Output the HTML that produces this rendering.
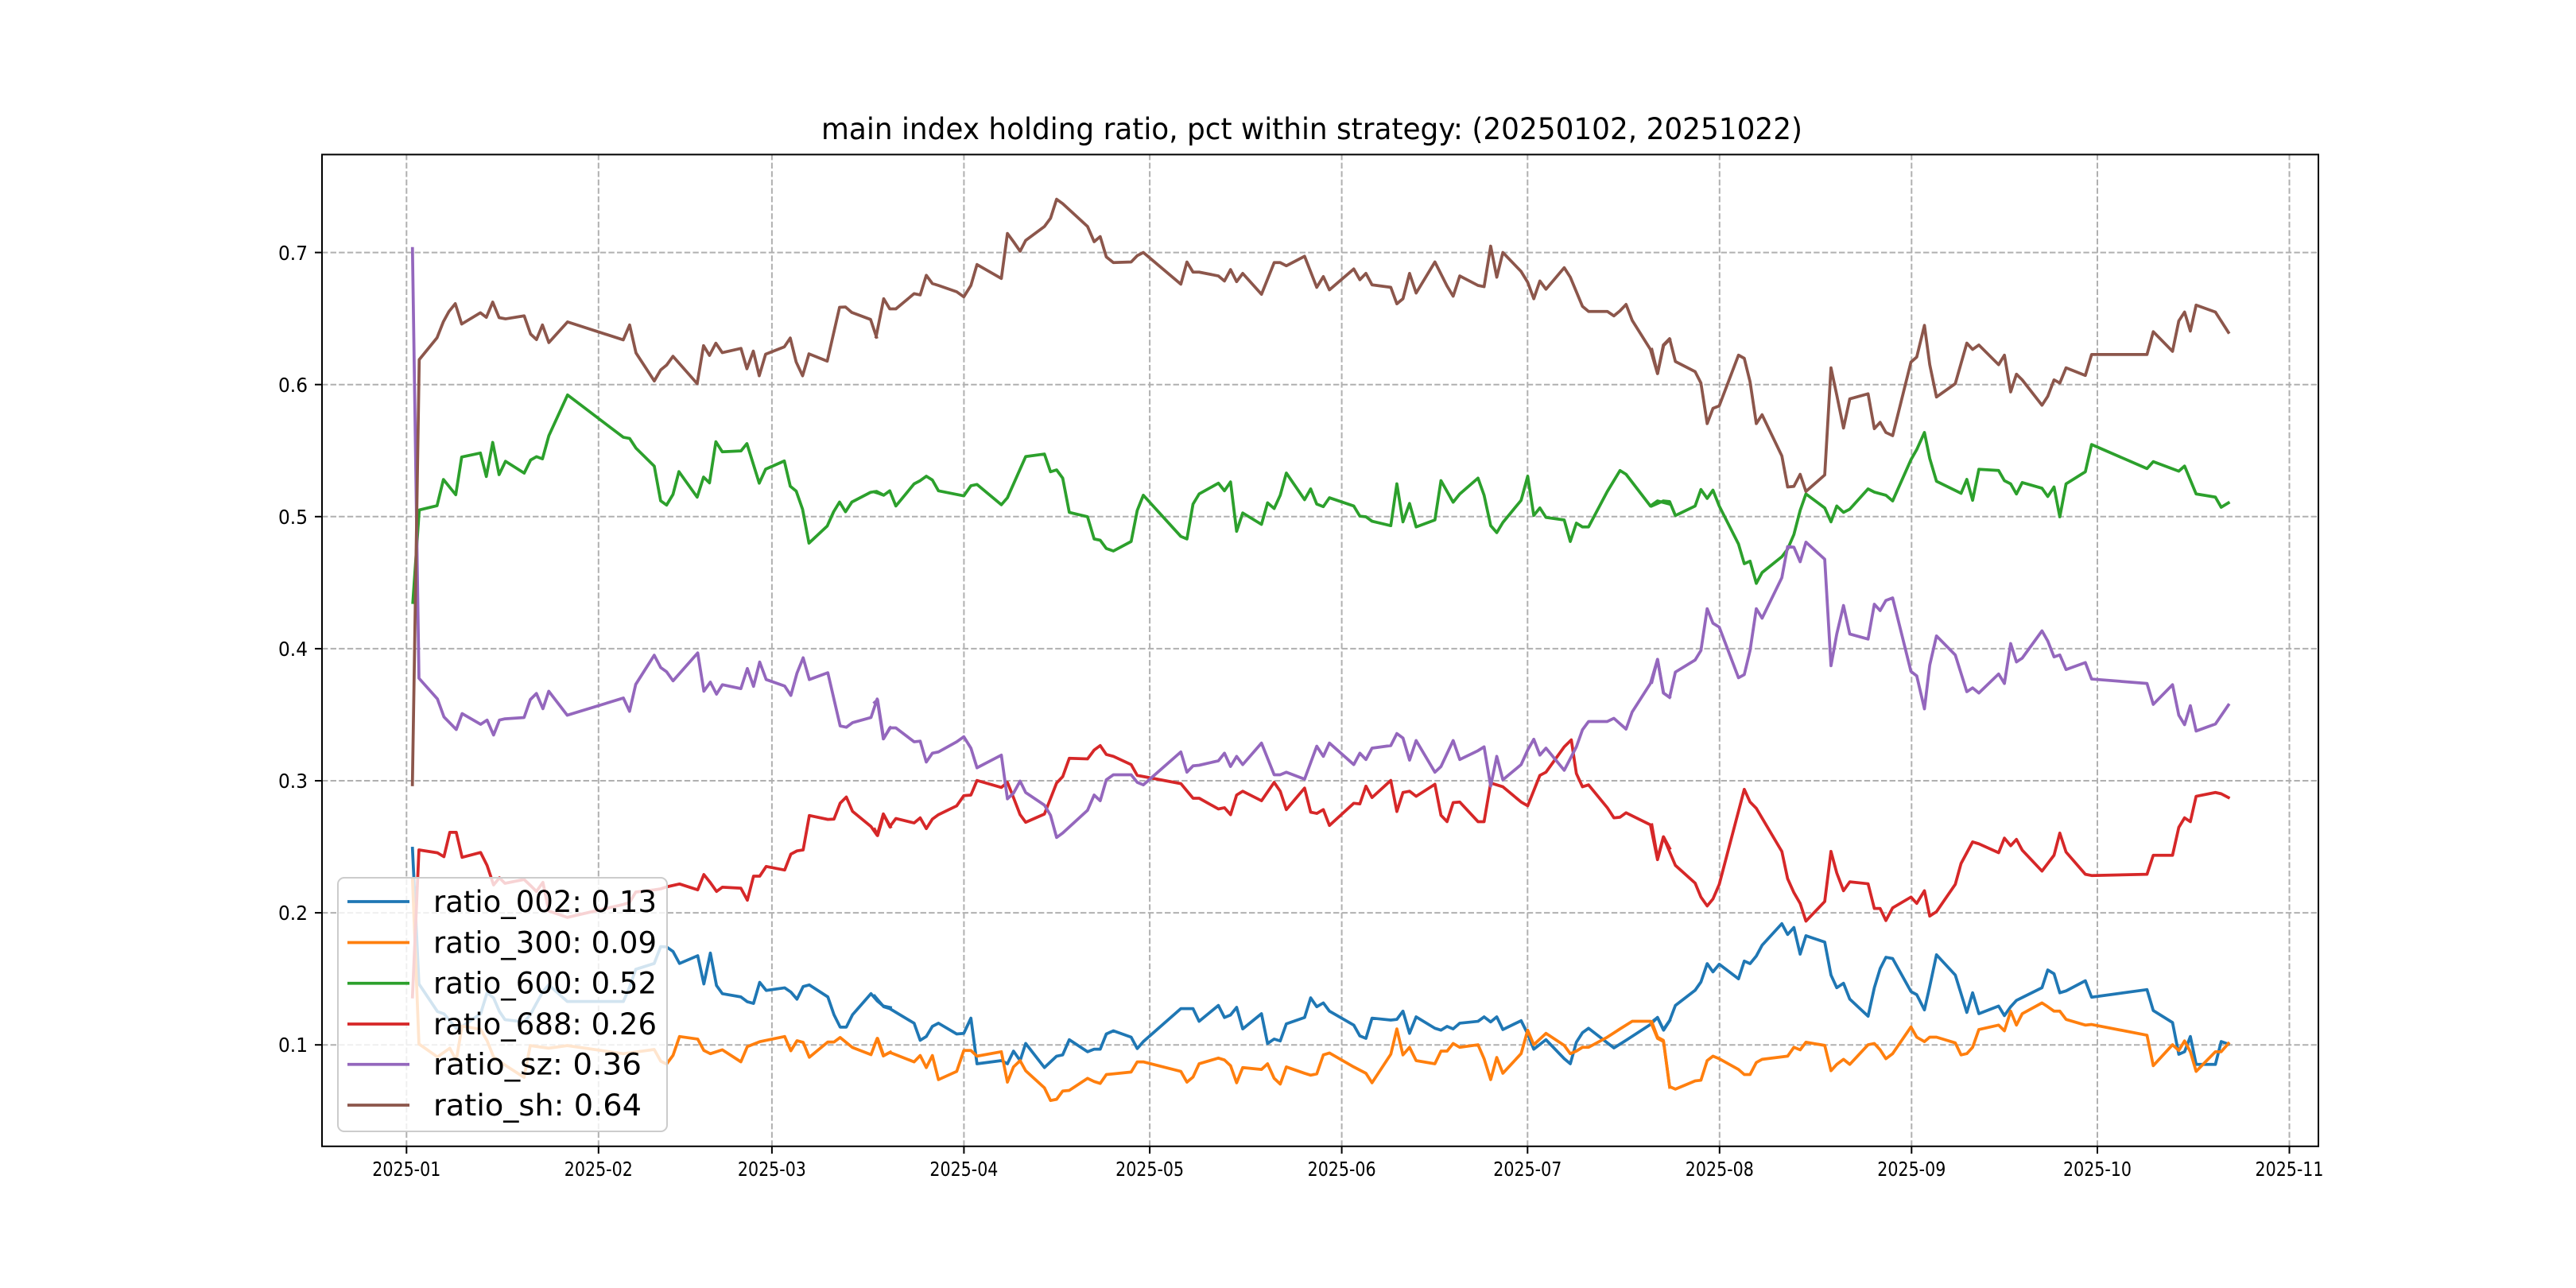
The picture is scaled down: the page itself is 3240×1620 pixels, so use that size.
<!DOCTYPE html>
<html><head><meta charset="utf-8"><style>html,body{margin:0;padding:0;background:#fff}svg{display:block}</style></head>
<body>
<svg xmlns="http://www.w3.org/2000/svg" width="3240" height="1620" viewBox="0 0 3240 1620" font-family="'DejaVu Sans','Liberation Sans',sans-serif">
<rect width="3240" height="1620" fill="#fff"/>
<g stroke="#b0b0b0" stroke-width="2" stroke-dasharray="7.4,3.2" fill="none">
<line x1="511.3" y1="194" x2="511.3" y2="1442"/><line x1="752.8" y1="194" x2="752.8" y2="1442"/><line x1="970.9" y1="194" x2="970.9" y2="1442"/><line x1="1212.4" y1="194" x2="1212.4" y2="1442"/><line x1="1446.1" y1="194" x2="1446.1" y2="1442"/><line x1="1687.6" y1="194" x2="1687.6" y2="1442"/><line x1="1921.3" y1="194" x2="1921.3" y2="1442"/><line x1="2162.8" y1="194" x2="2162.8" y2="1442"/><line x1="2404.3" y1="194" x2="2404.3" y2="1442"/><line x1="2638" y1="194" x2="2638" y2="1442"/><line x1="2879.5" y1="194" x2="2879.5" y2="1442"/>
<line x1="405" y1="1314.2" x2="2916" y2="1314.2"/><line x1="405" y1="1148.1" x2="2916" y2="1148.1"/><line x1="405" y1="982" x2="2916" y2="982"/><line x1="405" y1="815.9" x2="2916" y2="815.9"/><line x1="405" y1="649.8" x2="2916" y2="649.8"/><line x1="405" y1="483.7" x2="2916" y2="483.7"/><line x1="405" y1="317.6" x2="2916" y2="317.6"/>
</g>
<g fill="none" stroke-width="3.75" stroke-linejoin="round" stroke-linecap="square">
<g stroke="#1f77b4">
<polyline vector-effect="non-scaling-stroke" transform="translate(480,760) scale(0.40816)" points="95,752 115,1170 172,1255 192,1262 230,1307 248,1301 305,1262 325,1197 345,1213 363,1255 380,1280 439,1287 458,1265 477,1230 497,1194 515,1173 572,1224 745,1224 764,1180 783,1125 840,1107 860,1055 878,1056 898,1070 918,1107 974,1083 993,1170 1013,1075 1032,1175 1050,1200 1107,1210 1127,1225 1146,1230 1165,1165 1185,1190 1242,1182 1261,1195 1280,1217 1299,1178 1318,1173 1375,1210 1394,1265 1413,1303 1432,1303 1451,1265 1508,1200 1527,1222 1546,1238 1568,1243"/>
<polyline vector-effect="non-scaling-stroke" transform="translate(1100,190) scale(0.6378,0.7972)" points="0,1333 18,1350 30,1353 78,1376 90,1403 102,1397 114,1381 126,1376 162,1393 176,1392 190,1368 202,1440 250,1435 262,1440 274,1420 287,1435 298,1408 335,1446 359,1428 371,1426 384,1402 420,1421 433,1417 445,1417 457,1393 471,1388 506,1398 518,1416 530,1405 604,1353 628,1353 640,1373 678,1348 690,1367 702,1363 714,1351 726,1385 763,1361 775,1408 788,1401 800,1404 812,1377 848,1367 860,1336 872,1350 885,1344 897,1357 945,1379 957,1396 969,1400 981,1368 1018,1371 1030,1370 1042,1357 1055,1392 1068,1366 1105,1384 1117,1387 1129,1381 1141,1385 1154,1376 1190,1373 1202,1366 1215,1374 1227,1366 1239,1386 1275,1372 1288,1393 1300,1417 1324,1402 1360,1432 1372,1440 1384,1406 1396,1391 1408,1384 1445,1407 1458,1415 1482,1403 1530,1378 1544,1367 1556,1387 1568,1372"/>
<polyline vector-effect="non-scaling-stroke" transform="translate(2000,190) scale(0.6059,0.7972)" points="128,1374 140,1367 152,1386 165,1372 177,1348 218,1324 230,1311 243,1282 255,1295 268,1283 308,1306 320,1278 332,1282 345,1270 357,1253 398,1219 410,1236 423,1225 436,1267 448,1238 487,1248 500,1300 512,1320 526,1313 539,1338 577,1365 590,1320 602,1290 614,1272 628,1274 666,1326 678,1331 694,1355 705,1318 719,1268 758,1300 782,1359 794,1328 807,1361 848,1349 860,1364 873,1350 885,1340 938,1320 950,1292 963,1298 975,1328 988,1325 1028,1309 1041,1335 1156,1323 1169,1356 1209,1375 1222,1425 1234,1421 1246,1397 1258,1441 1298,1441 1310,1405 1325,1409"/>
</g>
<g stroke="#ff7f0e">
<polyline vector-effect="non-scaling-stroke" transform="translate(480,760) scale(0.40816)" points="95,845 115,1355 172,1395 210,1368 230,1405 248,1300 305,1310 325,1345 345,1395 380,1420 439,1458 458,1360 515,1368 572,1360 745,1385 840,1372 860,1408 878,1417 898,1390 918,1332 974,1340 993,1375 1013,1385 1050,1373 1107,1410 1127,1363 1165,1348 1242,1332 1261,1376 1280,1345 1299,1350 1318,1396 1375,1349 1394,1349 1413,1335 1451,1366 1508,1388 1527,1338 1546,1392 1568,1380"/>
<polyline vector-effect="non-scaling-stroke" transform="translate(1100,190) scale(0.6378,0.7972)" points="0,1410 6,1400 18,1427 30,1422 78,1437 90,1427 102,1446 114,1427 126,1465 162,1452 176,1419 190,1419 202,1428 250,1421 262,1469 274,1445 287,1435 298,1451 335,1478 347,1498 359,1496 371,1483 384,1482 420,1463 433,1468 445,1471 457,1457 506,1453 518,1437 530,1437 604,1452 616,1469 628,1461 640,1440 678,1431 690,1434 702,1443 714,1470 726,1446 763,1449 775,1440 788,1463 800,1472 812,1445 848,1455 860,1458 872,1456 885,1426 897,1423 945,1445 969,1455 981,1470 1018,1425 1030,1385 1042,1426 1055,1414 1068,1435 1105,1440 1117,1420 1129,1420 1141,1408 1154,1414 1190,1410 1202,1432 1215,1465 1227,1430 1239,1455 1275,1424 1288,1387 1300,1410 1324,1392 1360,1411 1372,1424 1384,1420 1396,1414 1408,1414 1445,1398 1470,1385 1494,1373 1530,1373 1544,1400 1556,1405 1568,1477"/>
<polyline vector-effect="non-scaling-stroke" transform="translate(2000,190) scale(0.6059,0.7972)" points="128,1374 140,1398 152,1403 165,1476 177,1480 218,1467 230,1466 243,1435 255,1428 268,1432 308,1449 320,1457 332,1457 345,1438 357,1433 410,1428 423,1414 436,1418 448,1406 487,1411 500,1451 512,1441 526,1433 539,1441 577,1410 590,1408 602,1418 614,1432 628,1424 666,1382 678,1398 694,1405 705,1398 719,1398 758,1407 770,1426 782,1424 794,1414 807,1386 848,1379 860,1388 873,1357 885,1379 897,1361 938,1344 950,1350 963,1357 975,1357 988,1370 1028,1379 1041,1378 1156,1395 1169,1443 1209,1410 1222,1419 1234,1404 1246,1421 1258,1452 1298,1421 1310,1421 1325,1408"/>
</g>
<g stroke="#2ca02c">
<polyline vector-effect="non-scaling-stroke" transform="translate(300,150) scale(0.5740,0.3827)" points="382,1588 396,1284 435,1270 449,1184 476,1234 489,1110 530,1097 543,1174 557,1062 571,1168 585,1124 626,1163 640,1120 653,1109 666,1116 680,1040 721,906 843,1045 857,1049 871,1081 911,1140 925,1254 938,1268 952,1233 965,1158 1005,1242 1019,1176 1032,1195 1046,1060 1060,1093 1101,1090 1114,1066 1141,1196 1155,1150 1196,1123 1209,1206 1222,1222 1236,1282 1250,1393 1290,1337 1304,1290 1317,1258 1330,1290 1344,1258 1385,1226 1398,1223 1412,1234"/>
<polyline vector-effect="non-scaling-stroke" transform="translate(1100,190) scale(0.6378,0.7972)" points="0,538 8,540 18,543 30,536 42,560 78,525 90,520 102,513 114,519 126,536 176,544 190,528 202,526 250,558 262,547 298,482 335,478 347,506 359,503 371,516 384,570 420,577 433,612 445,614 457,627 471,631 506,616 518,567 530,543 604,608 616,612 628,557 640,541 678,524 690,536 702,522 714,600 726,571 763,589 775,555 788,564 800,543 812,508 848,550 860,533 872,557 885,561 897,547 945,560 957,576 969,577 981,584 1018,591 1030,525 1042,585 1055,556 1068,593 1105,582 1117,520 1141,554 1154,541 1190,516 1202,543 1215,591 1227,602 1239,586 1275,551 1288,513 1300,575 1312,563 1324,578 1360,582 1372,616 1384,587 1396,593 1408,593 1445,537 1470,504 1482,510 1530,560 1544,552 1568,557"/>
<polyline vector-effect="non-scaling-stroke" transform="translate(2000,190) scale(0.6059,0.7972)" points="128,560 152,552 165,553 177,575 218,560 230,534 243,548 255,535 268,560 308,620 320,651 332,647 345,682 357,665 398,640 410,628 423,605 436,567 448,541 487,563 500,585 512,560 526,570 539,565 577,533 590,538 614,543 628,552 666,487 678,471 694,444 705,485 719,521 770,540 782,518 794,551 807,502 848,504 860,520 873,525 885,541 897,523 938,532 950,545 963,530 975,577 988,525 1028,506 1041,463 1156,501 1169,490 1222,505 1234,497 1258,541 1298,546 1310,562 1325,555"/>
</g>
<g stroke="#d62728">
<polyline vector-effect="non-scaling-stroke" transform="translate(480,760) scale(0.40816)" points="95,1210 115,757 172,766 192,778 210,703 230,703 248,780 305,765 325,805 345,865 363,843 380,860 439,848 458,866 477,885 497,857 515,945 572,965 745,925 764,919 783,887 840,880 860,877 878,871 918,862 974,880 993,833 1013,858 1032,885 1050,872 1107,875 1127,912 1146,838 1165,838 1185,808 1242,819 1261,770 1280,760 1299,757 1318,651 1375,663 1394,662 1413,613 1432,594 1451,638 1508,685 1527,712 1546,646 1568,686"/>
<polyline vector-effect="non-scaling-stroke" transform="translate(1100,190) scale(0.6378,0.7972)" points="0,1070 6,1080 18,1047 30,1066 42,1053 78,1060 90,1052 102,1069 114,1054 126,1047 162,1033 176,1017 190,1016 202,993 250,1004 262,996 274,1020 287,1047 298,1059 335,1046 359,997 371,987 384,958 420,959 433,945 445,938 457,952 471,955 506,968 518,985 604,998 628,1021 640,1021 678,1038 690,1036 702,1047 714,1016 726,1010 763,1025 788,996 800,1010 812,1039 848,1005 860,1043 872,1045 885,1039 897,1064 945,1029 957,1030 969,1002 981,1020 1018,993 1030,1042 1042,1012 1055,1010 1068,1018 1105,999 1117,1048 1129,1058 1141,1028 1154,1027 1190,1058 1202,1058 1215,997 1239,1003 1275,1027 1288,1033 1312,985 1324,980 1360,940 1374,929 1384,982 1396,1003 1408,1000 1445,1036 1458,1052 1470,1051 1482,1044 1530,1063 1544,1118 1556,1082 1568,1100"/>
<polyline vector-effect="non-scaling-stroke" transform="translate(2000,190) scale(0.6059,0.7972)" points="128,1063 140,1116 152,1082 177,1127 218,1155 230,1177 243,1191 255,1180 268,1157 320,1007 332,1027 345,1037 398,1105 410,1148 423,1170 436,1187 448,1215 487,1184 500,1105 512,1139 526,1167 539,1153 577,1156 590,1195 602,1195 614,1214 628,1194 666,1177 678,1187 694,1167 705,1207 719,1200 758,1157 770,1124 794,1090 807,1093 848,1107 860,1084 873,1096 885,1086 897,1103 938,1136 963,1111 975,1076 988,1106 1028,1141 1041,1143 1156,1141 1169,1111 1209,1111 1222,1067 1234,1052 1246,1058 1258,1018 1298,1012 1310,1014 1325,1020"/>
</g>
<g stroke="#9467bd">
<polyline vector-effect="non-scaling-stroke" transform="translate(480,760) scale(0.40816)" points="95,-1096 115,228 172,292 192,347 230,386 248,337 305,370 325,357 345,403 363,357 380,353 439,349 458,294 477,275 497,322 515,268 572,342 745,289 764,330 783,247 840,157 860,195 878,208 898,236 974,150 993,268 1013,240 1032,277 1050,248 1107,260 1127,198 1146,253 1165,178 1185,232 1242,252 1261,281 1280,212 1299,165 1318,232 1375,211 1413,375 1432,379 1451,365 1508,349 1527,292 1546,415 1568,380"/>
<polyline vector-effect="non-scaling-stroke" transform="translate(1100,190) scale(0.6378,0.7972)" points="0,870 6,866 18,927 30,910 42,910 78,932 90,931 102,964 114,950 126,948 162,932 176,924 190,942 202,973 250,953 262,1022 274,1013 287,994 298,1012 335,1032 347,1048 359,1083 371,1076 420,1040 433,1016 445,1025 457,992 471,984 506,984 518,996 530,1000 604,948 616,980 628,970 640,969 678,962 690,950 702,971 714,955 726,968 763,934 788,984 800,984 812,980 848,991 872,939 885,955 897,934 945,968 957,950 969,960 981,942 1018,938 1030,919 1042,926 1055,961 1068,930 1105,980 1117,971 1141,930 1154,960 1190,946 1202,940 1215,1002 1227,955 1239,992 1275,968 1288,945 1300,928 1312,953 1324,942 1360,977 1384,940 1396,913 1408,900 1445,900 1458,895 1482,912 1494,885 1530,840 1544,802 1556,855 1568,862"/>
<polyline vector-effect="non-scaling-stroke" transform="translate(2000,190) scale(0.6059,0.7972)" points="128,838 140,802 152,855 165,862 177,822 218,803 230,788 243,722 255,745 268,751 308,831 320,826 332,788 345,722 357,737 398,673 410,624 423,625 436,648 448,617 487,644 500,812 512,762 526,717 539,762 577,770 590,715 602,725 614,709 628,705 666,821 678,828 694,880 705,811 719,765 758,795 782,853 794,847 807,855 848,825 860,840 873,777 885,806 897,800 938,757 950,773 963,798 975,795 988,818 1028,807 1041,833 1156,840 1169,873 1209,842 1222,890 1234,905 1246,875 1258,915 1298,904 1325,874"/>
</g>
<g stroke="#8c564b">
<polyline vector-effect="non-scaling-stroke" transform="translate(300,150) scale(0.5740,0.3827)" points="381,2187 396,790 435,718 449,665 461,632 475,606 489,673 530,636 543,651 557,601 571,652 585,656 626,646 640,706 653,724 666,676 680,734 721,666 843,725 857,676 871,768 911,860 925,824 938,808 952,779 1005,869 1019,744 1032,776 1046,736 1060,767 1101,753 1114,820 1128,762 1141,843 1155,772 1196,748 1209,719 1222,798 1236,843 1250,771 1290,795 1317,618 1330,617 1344,635 1385,658 1398,716"/>
<polyline vector-effect="non-scaling-stroke" transform="translate(1100,190) scale(0.6378,0.7972)" points="3,293 18,233 30,249 42,249 78,225 90,227 102,196 114,209 126,212 162,222 176,230 190,212 202,179 250,201 262,130 274,143 287,158 298,141 335,119 347,106 359,76 371,83 420,119 433,143 445,135 457,167 471,176 506,175 518,165 530,160 604,210 616,175 628,191 640,191 678,197 690,205 702,187 714,206 726,193 763,226 788,176 800,176 812,181 848,166 872,215 885,198 897,219 945,186 957,203 969,193 981,211 1018,215 1030,241 1042,233 1055,193 1068,224 1105,175 1129,213 1141,229 1154,197 1190,212 1202,214 1215,150 1227,199 1239,160 1275,190 1288,207 1300,233 1312,205 1324,218 1360,184 1372,199 1396,245 1408,253 1445,253 1458,260 1470,252 1482,242 1494,267 1530,313 1544,351 1556,307 1568,297"/>
<polyline vector-effect="non-scaling-stroke" transform="translate(2000,190) scale(0.6059,0.7972)" points="128,313 140,351 152,306 165,296 177,332 218,348 230,366 243,430 255,406 268,402 308,322 320,327 332,364 345,430 357,416 398,481 410,530 423,529 436,510 448,537 487,511 500,342 512,385 526,437 539,391 577,383 590,438 602,428 614,444 628,449 666,333 678,325 694,275 705,337 719,388 758,367 782,303 794,313 807,306 848,337 860,322 873,380 885,352 897,361 938,401 950,387 963,361 975,366 988,342 1028,354 1041,321 1156,321 1169,285 1209,316 1222,268 1234,254 1246,284 1258,243 1298,254 1325,286"/>
</g>
</g>
<rect x="405" y="194.4" width="2511" height="1247.4" fill="none" stroke="#000" stroke-width="2"/>
<g stroke="#000" stroke-width="2">
<line x1="511.3" y1="1442" x2="511.3" y2="1451"/><line x1="752.8" y1="1442" x2="752.8" y2="1451"/><line x1="970.9" y1="1442" x2="970.9" y2="1451"/><line x1="1212.4" y1="1442" x2="1212.4" y2="1451"/><line x1="1446.1" y1="1442" x2="1446.1" y2="1451"/><line x1="1687.6" y1="1442" x2="1687.6" y2="1451"/><line x1="1921.3" y1="1442" x2="1921.3" y2="1451"/><line x1="2162.8" y1="1442" x2="2162.8" y2="1451"/><line x1="2404.3" y1="1442" x2="2404.3" y2="1451"/><line x1="2638" y1="1442" x2="2638" y2="1451"/><line x1="2879.5" y1="1442" x2="2879.5" y2="1451"/>
<line x1="396" y1="1314.2" x2="405" y2="1314.2"/><line x1="396" y1="1148.1" x2="405" y2="1148.1"/><line x1="396" y1="982" x2="405" y2="982"/><line x1="396" y1="815.9" x2="405" y2="815.9"/><line x1="396" y1="649.8" x2="405" y2="649.8"/><line x1="396" y1="483.7" x2="405" y2="483.7"/><line x1="396" y1="317.6" x2="405" y2="317.6"/>
</g>
<g font-size="25" fill="#000" text-anchor="end">
<text x="387" y="1323" textLength="37" lengthAdjust="spacingAndGlyphs">0.1</text><text x="387" y="1157" textLength="37" lengthAdjust="spacingAndGlyphs">0.2</text><text x="387" y="991" textLength="37" lengthAdjust="spacingAndGlyphs">0.3</text><text x="387" y="825" textLength="37" lengthAdjust="spacingAndGlyphs">0.4</text><text x="387" y="659" textLength="37" lengthAdjust="spacingAndGlyphs">0.5</text><text x="387" y="493" textLength="37" lengthAdjust="spacingAndGlyphs">0.6</text><text x="387" y="327" textLength="37" lengthAdjust="spacingAndGlyphs">0.7</text>
</g>
<g font-size="25" fill="#000" text-anchor="middle">
<text x="511.3" y="1479" textLength="86" lengthAdjust="spacingAndGlyphs">2025-01</text><text x="752.8" y="1479" textLength="86" lengthAdjust="spacingAndGlyphs">2025-02</text><text x="970.9" y="1479" textLength="86" lengthAdjust="spacingAndGlyphs">2025-03</text><text x="1212.4" y="1479" textLength="86" lengthAdjust="spacingAndGlyphs">2025-04</text><text x="1446.1" y="1479" textLength="86" lengthAdjust="spacingAndGlyphs">2025-05</text><text x="1687.6" y="1479" textLength="86" lengthAdjust="spacingAndGlyphs">2025-06</text><text x="1921.3" y="1479" textLength="86" lengthAdjust="spacingAndGlyphs">2025-07</text><text x="2162.8" y="1479" textLength="86" lengthAdjust="spacingAndGlyphs">2025-08</text><text x="2404.3" y="1479" textLength="86" lengthAdjust="spacingAndGlyphs">2025-09</text><text x="2638" y="1479" textLength="86" lengthAdjust="spacingAndGlyphs">2025-10</text><text x="2879.5" y="1479" textLength="86" lengthAdjust="spacingAndGlyphs">2025-11</text>
</g>
<text x="1650" y="175" font-size="37" text-anchor="middle" textLength="1234" lengthAdjust="spacingAndGlyphs">main index holding ratio, pct within strategy: (20250102, 20251022)</text>
<rect x="425" y="1104" width="414" height="319" rx="8" fill="#fff" fill-opacity="0.8" stroke="#cccccc" stroke-width="2"/>
<g stroke-width="3.75">
<line x1="437" y1="1134" x2="515" y2="1134" stroke="#1f77b4"/>
<line x1="437" y1="1185.5" x2="515" y2="1185.5" stroke="#ff7f0e"/>
<line x1="437" y1="1236.7" x2="515" y2="1236.7" stroke="#2ca02c"/>
<line x1="437" y1="1288" x2="515" y2="1288" stroke="#d62728"/>
<line x1="437" y1="1338.7" x2="515" y2="1338.7" stroke="#9467bd"/>
<line x1="437" y1="1390" x2="515" y2="1390" stroke="#8c564b"/>
</g>
<g font-size="37" fill="#000">
<text x="545" y="1147" textLength="281" lengthAdjust="spacingAndGlyphs">ratio_002: 0.13</text>
<text x="545" y="1198.5" textLength="281" lengthAdjust="spacingAndGlyphs">ratio_300: 0.09</text>
<text x="545" y="1249.7" textLength="281" lengthAdjust="spacingAndGlyphs">ratio_600: 0.52</text>
<text x="545" y="1301" textLength="281" lengthAdjust="spacingAndGlyphs">ratio_688: 0.26</text>
<text x="545" y="1351.7" textLength="262" lengthAdjust="spacingAndGlyphs">ratio_sz: 0.36</text>
<text x="545" y="1403" textLength="262" lengthAdjust="spacingAndGlyphs">ratio_sh: 0.64</text>
</g>
</svg>
</body></html>
